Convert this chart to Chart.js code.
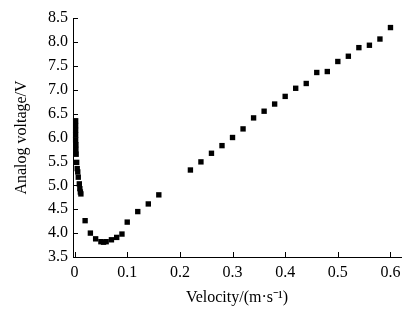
<!DOCTYPE html>
<html>
<head>
<meta charset="utf-8">
<script src="https://cdn.jsdelivr.net/npm/chart.js@4.4.1/dist/chart.umd.min.js"></script>
<style>
  html, body { margin: 0; padding: 0; background: #fff; }
  #wrap { width: 411px; height: 312px; }
</style>
</head>
<body>
<div id="wrap"><canvas id="c" width="411" height="312"></canvas></div>
<script>
var velocity = [
  0.002, 0.002, 0.002, 0.002, 0.002, 0.0025, 0.0025, 0.003,
  0.004, 0.005, 0.006, 0.007, 0.009, 0.010, 0.011, 0.012,
  0.02, 0.03, 0.04, 0.05, 0.055, 0.06, 0.07, 0.08, 0.09, 0.10,
  0.12, 0.14, 0.16, 0.22, 0.24, 0.26, 0.28, 0.30, 0.32, 0.34,
  0.36, 0.38, 0.40, 0.42, 0.44, 0.46, 0.48, 0.50, 0.52, 0.54,
  0.56, 0.58, 0.60
];
var voltage = [
  6.35, 6.25, 6.15, 6.05, 5.95, 5.85, 5.75, 5.65,
  5.48, 5.35, 5.28, 5.17, 5.03, 4.93, 4.86, 4.82,
  4.26, 4.00, 3.88, 3.82, 3.81, 3.82, 3.86, 3.91, 3.98, 4.23,
  4.45, 4.61, 4.80, 5.32, 5.49, 5.67, 5.83, 6.00, 6.18, 6.41,
  6.55, 6.70, 6.86, 7.03, 7.13, 7.36, 7.38, 7.59, 7.70, 7.88,
  7.93, 8.06, 8.30
];
var xTicks = [0, 0.1, 0.2, 0.3, 0.4, 0.5, 0.6];
var yTicks = [3.5, 4.0, 4.5, 5.0, 5.5, 6.0, 6.5, 7.0, 7.5, 8.0, 8.5];

var serif = "'Liberation Serif', 'Times New Roman', serif";

var points = velocity.map(function (v, i) {
  return { x: v, y: voltage[i] };
});

// short tick marks pointing into the plot
var innerTicks = {
  id: "innerTicks",
  afterDraw: function (chart) {
    var ctx = chart.ctx;
    var xs = chart.scales.x;
    var ys = chart.scales.y;
    ctx.save();
    ctx.strokeStyle = "#000";
    ctx.lineWidth = 1;
    ctx.beginPath();
    xTicks.forEach(function (t) {
      var px = Math.round(xs.getPixelForValue(t)) + 0.5;
      ctx.moveTo(px, ys.bottom);
      ctx.lineTo(px, ys.bottom - 5);
    });
    yTicks.forEach(function (t) {
      var py = Math.round(ys.getPixelForValue(t)) + 0.5;
      ctx.moveTo(xs.left, py);
      ctx.lineTo(xs.left + 5, py);
    });
    ctx.stroke();
    ctx.restore();
  }
};

new Chart(document.getElementById("c"), {
  type: "scatter",
  plugins: [innerTicks],
  data: {
    datasets: [{
      data: points,
      pointStyle: "rect",
      radius: 3.8,
      backgroundColor: "#000",
      borderColor: "#000",
      borderWidth: 0
    }]
  },
  options: {
    responsive: false,
    animation: false,
    devicePixelRatio: 1,
    clip: false,
    layout: { padding: { top: 18, right: 10, bottom: 0, left: 0 } },
    plugins: { legend: { display: false }, tooltip: { enabled: false } },
    scales: {
      x: {
        type: "linear",
        min: -0.003,
        max: 0.62,
        afterBuildTicks: function (s) {
          s.ticks = xTicks.map(function (v) { return { value: v }; });
        },
        afterFit: function (s) { s.height = 55; },
        grid: { display: false, drawTicks: false },
        border: { display: true, color: "#000", width: 1 },
        ticks: {
          color: "#000",
          padding: 6,
          maxRotation: 0,
          font: { family: serif, size: 16 },
          callback: function (v) { return v === 0 ? "0" : v.toFixed(1); }
        },
        title: {
          display: true,
          text: "Velocity/(m\u00b7s\u207b\u00b9)",
          color: "#000",
          font: { family: serif, size: 16 },
          padding: { top: 0, bottom: 5 }
        }
      },
      y: {
        type: "linear",
        min: 3.5,
        max: 8.5,
        afterBuildTicks: function (s) {
          s.ticks = yTicks.map(function (v) { return { value: v }; });
        },
        afterFit: function (s) { s.width = 73; },
        grid: { display: false, drawTicks: false },
        border: { display: true, color: "#000", width: 1 },
        ticks: {
          color: "#000",
          padding: 5,
          font: { family: serif, size: 16 },
          callback: function (v) { return v.toFixed(1); }
        },
        title: {
          display: true,
          text: "Analog voltage/V",
          color: "#000",
          font: { family: serif, size: 16 },
          padding: { top: 12, bottom: 0 }
        }
      }
    }
  }
});
</script>
</body>
</html>
